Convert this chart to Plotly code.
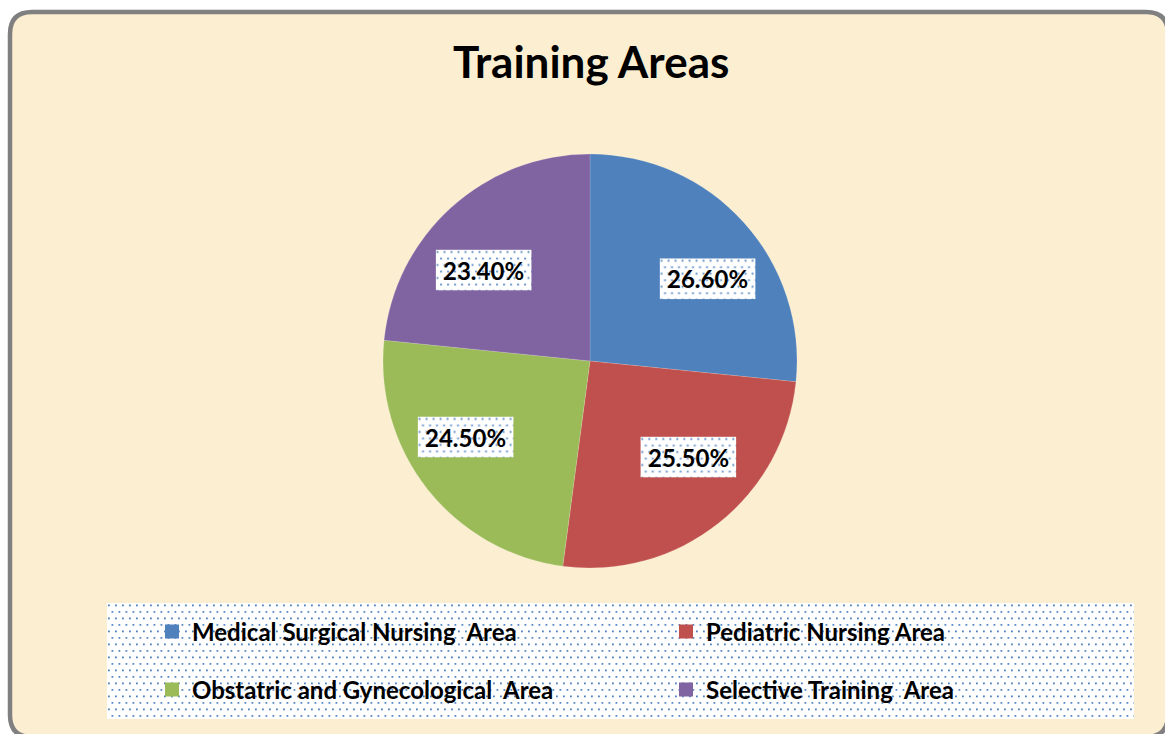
import base64
import math
import plotly.graph_objects as go

# ---------------- data ----------------
categories = ["Medical Surgical Nursing  Area", "Pediatric Nursing Area",
              "Obstatric and Gynecological  Area", "Selective Training  Area"]
values = [26.6, 25.5, 24.5, 23.4]
value_labels = ["26.60%", "25.50%", "24.50%", "23.40%"]
colors = ["#4F81BD", "#C0504D", "#9BBB59", "#8064A2"]
title_text = "Training Areas"

W, H = 1165, 734
FONT = "Lato"


def px(x):
    return x / W


def py(y):
    return 1 - y / H


def pattern_uri(w, h):
    svg = (
        f'<svg xmlns="http://www.w3.org/2000/svg" width="{w}" height="{h}" '
        f'viewBox="0 0 {w} {h}" preserveAspectRatio="none">'
        '<defs><pattern id="p" width="7" height="13" patternUnits="userSpaceOnUse">'
        '<rect width="7" height="13" fill="#ffffff"/>'
        '<rect x="1" y="1.5" width="1.8" height="1.8" fill="#4F81BD"/>'
        '<rect x="4.5" y="8" width="1.8" height="1.8" fill="#5B8AC6"/>'
        '</pattern></defs>'
        f'<rect width="{w}" height="{h}" fill="url(#p)"/></svg>'
    )
    return "data:image/svg+xml;base64," + base64.b64encode(svg.encode()).decode()


def disp(s):
    return "<b>" + s.replace("  ", " \u00a0") + "</b>"


# pie geometry (pixels)
cx, cy, R = 590, 361, 207

fig = go.Figure()
fig.add_trace(go.Pie(
    labels=categories, values=values, sort=False, direction="clockwise",
    rotation=0, marker=dict(colors=colors, line=dict(color="rgba(255,255,255,0.3)", width=0.5)),
    textinfo="none", showlegend=False,
    domain=dict(x=[px(cx - R), px(cx + R)], y=[py(cy + R), py(cy - R)]),
))

# legend entries: 2x2 grid, one legend per cell
legend_names = ["legend", "legend2", "legend3", "legend4"]
cell_x = [152, 666, 152, 666]
cell_y = [632, 632, 690, 690]
for cat, col, lg in zip(categories, colors, legend_names):
    fig.add_trace(go.Scatter(
        x=[None], y=[None], mode="markers", name=disp(cat),
        marker=dict(symbol="square", size=14, color=col),
        legend=lg,
    ))

# outer rounded border
x0, y0, x1, y1, r = 10, 12, 1168, 737, 22
path = (
    f"M {px(x0 + r)},{py(y0)} L {px(x1 - r)},{py(y0)} Q {px(x1)},{py(y0)} {px(x1)},{py(y0 + r)} "
    f"L {px(x1)},{py(y1 - r)} Q {px(x1)},{py(y1)} {px(x1 - r)},{py(y1)} "
    f"L {px(x0 + r)},{py(y1)} Q {px(x0)},{py(y1)} {px(x0)},{py(y1 - r)} "
    f"L {px(x0)},{py(y0 + r)} Q {px(x0)},{py(y0)} {px(x0 + r)},{py(y0)} Z"
)
shapes = [dict(type="path", xref="paper", yref="paper", path=path,
               fillcolor="#FCEFD1", line=dict(color="#808080", width=4.5), layer="below")]

images = []
# legend dotted box
lx0, ly0, lx1, ly1 = 107, 603, 1134, 719
images.append(dict(source=pattern_uri(lx1 - lx0, ly1 - ly0), xref="paper", yref="paper",
                   x=px(lx0), y=py(ly0), sizex=px(lx1) - px(lx0), sizey=(ly1 - ly0) / H,
                   xanchor="left", yanchor="top", sizing="stretch", layer="above"))

# data labels positioned from slice mid-angles
annotations = []
total = sum(values)
cum = 0.0
bw, bh = 96, 41
for v, lab in zip(values, value_labels):
    mid = (cum + v / 2) / total * 2 * math.pi
    cum += v
    lxp = cx + 0.766 * R * math.sin(mid)
    lyp = cy - 0.592 * R * math.cos(mid)
    images.append(dict(source=pattern_uri(bw, bh), xref="paper", yref="paper",
                       x=px(lxp), y=py(lyp), sizex=bw / W, sizey=bh / H,
                       xanchor="center", yanchor="middle", sizing="stretch", layer="above"))
    annotations.append(dict(x=px(lxp), y=py(lyp), xref="paper", yref="paper",
                            text=f"<b>{lab}</b>", showarrow=False,
                            font=dict(family=FONT, size=24, color="#000000"),
                            xanchor="center", yanchor="middle"))

annotations.append(dict(x=px(591), y=py(61), xref="paper", yref="paper",
                        text=f"<b>{title_text}</b>", showarrow=False,
                        font=dict(family=FONT, size=44, color="#000000"),
                        xanchor="center", yanchor="middle"))

legend_layout = {}
for lg, lxp, lyp in zip(legend_names, cell_x, cell_y):
    legend_layout[lg] = dict(
        orientation="h", xanchor="left", yanchor="middle",
        x=px(lxp), y=py(lyp),
        bgcolor="rgba(0,0,0,0)", borderwidth=0,
        font=dict(family=FONT, size=24, color="#000000"),
        itemclick=False, itemdoubleclick=False,
    )

fig.update_layout(
    width=W, height=H, margin=dict(l=0, r=0, t=0, b=0),
    paper_bgcolor="#FFFFFF", plot_bgcolor="rgba(0,0,0,0)",
    xaxis=dict(visible=False), yaxis=dict(visible=False),
    shapes=shapes, images=images, annotations=annotations,
    **legend_layout,
)

fig.write_html("out.html", config={"displayModeBar": False},
               post_script="document.body.style.margin='0px';")
